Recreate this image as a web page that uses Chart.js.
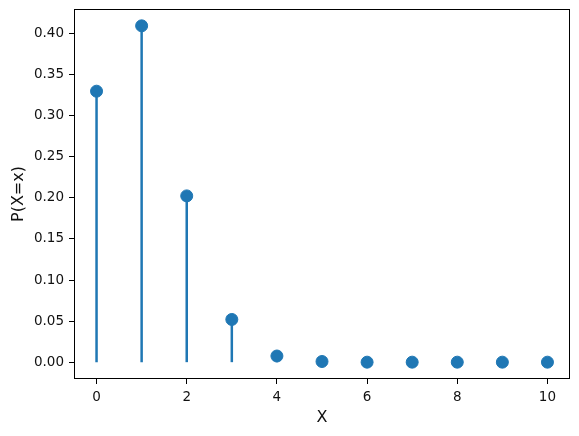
<!DOCTYPE html>
<html>
<head>
<meta charset="utf-8">
<script src="https://cdn.jsdelivr.net/npm/chart.js@4/dist/chart.umd.min.js"></script>
<style>
  html, body { margin: 0; padding: 0; background: #fff; }
  #wrap { width: 579px; height: 436px; }
</style>
</head>
<body>
<div id="wrap"><canvas id="canvas" width="579" height="436"></canvas></div>
<script>
// binomial pmf
var xs = [0, 1, 2, 3, 4, 5, 6, 7, 8, 9, 10];
var probs = [0.33, 0.4096, 0.2025, 0.052, 0.0075, 0.0008, 0, 0, 0, 0, 0];
var xTicks = [0, 2, 4, 6, 8, 10];

var blue = '#1f77b4';
var font = "'DejaVu Sans', sans-serif";

var datasets = [];
// stems from 0 up to each value
for (var i = 0; i < xs.length; i++) {
  datasets.push({
    type: 'line',
    data: [{x: xs[i], y: 0}, {x: xs[i], y: probs[i]}],
    borderColor: blue,
    borderWidth: 2.5,
    pointRadius: 0,
    fill: false
  });
}
datasets.push({
  type: 'scatter',
  data: xs.map(function(x, i) { return {x: x, y: probs[i]}; }),
  backgroundColor: blue,
  borderColor: blue,
  pointRadius: 6,
  pointHoverRadius: 6
});

var frame = {
  id: 'frame',
  afterDraw: function(chart) {
    var a = chart.chartArea, c = chart.ctx;
    c.save();
    c.strokeStyle = '#000';
    c.lineWidth = 1;
    c.strokeRect(a.left + 0.5, a.top + 0.5, a.right - a.left - 1, a.bottom - a.top - 1);
    c.restore();
  }
};

var ctx = document.getElementById('canvas').getContext('2d');
new Chart(ctx, {
  type: 'scatter',
  data: { datasets: datasets },
  plugins: [frame],
  options: {
    responsive: false,
    animation: false,
    layout: { padding: { top: 9, right: 9, left: 0, bottom: 0 } },
    plugins: { legend: { display: false }, tooltip: { enabled: false } },
    scales: {
      x: {
        type: 'linear',
        min: -0.5,
        max: 10.5,
        afterBuildTicks: function(s) { s.ticks = xTicks.map(function(v) { return {value: v}; }); },
        afterFit: function(s) { s.height = 57; s.paddingLeft = 0; s.paddingRight = 0; },
        grid: { display: true, drawOnChartArea: false, drawTicks: true, tickLength: 5, tickColor: '#000' },
        border: { display: false },
        ticks: { color: '#111', font: { family: font, size: 13.5 }, padding: 5, maxRotation: 0 },
        title: { display: true, text: 'X', color: '#111', font: { family: font, size: 16 }, padding: { top: 0, bottom: 9 } }
      },
      y: {
        min: -0.0205,
        max: 0.4301,
        afterBuildTicks: function(s) {
          var t = [];
          for (var k = 0; k <= 8; k++) t.push({value: k * 0.05});
          s.ticks = t;
        },
        afterFit: function(s) { s.width = 74; s.paddingTop = 0; s.paddingBottom = 0; },
        grid: { display: true, drawOnChartArea: false, drawTicks: true, tickLength: 5, tickColor: '#000' },
        border: { display: false },
        ticks: {
          color: '#111', font: { family: font, size: 13.5 }, padding: 5,
          callback: function(v) { return v.toFixed(2); }
        },
        title: { display: true, text: 'P(X=x)', color: '#111', font: { family: font, size: 16 }, padding: { top: 9, bottom: 0 } }
      }
    }
  }
});
</script>
</body>
</html>
